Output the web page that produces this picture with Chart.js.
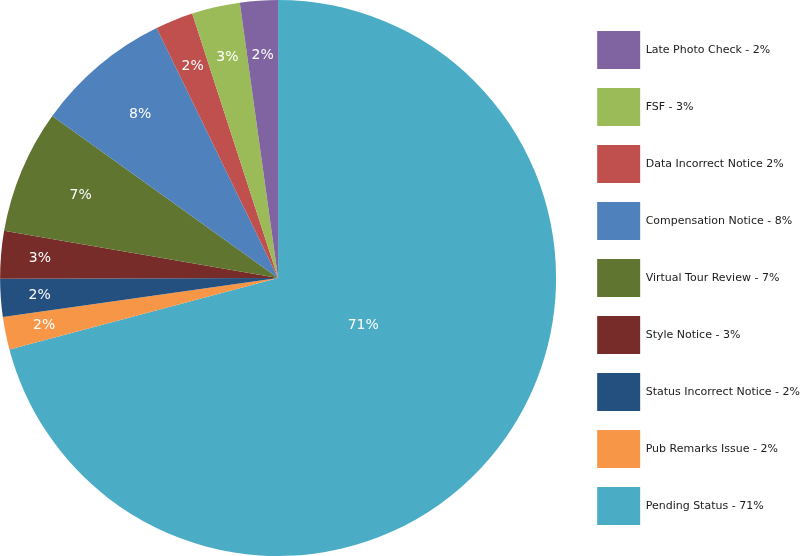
<!DOCTYPE html>
<html lang="en">
<head>
  <meta charset="UTF-8">
  <title>Status Breakdown</title>
  <script src="https://cdn.jsdelivr.net/npm/chart.js"></script>
  <style>
    body {
      margin: 0;
      background: #fff;
      overflow: hidden;
    }
    #wrap {
      position: relative;
      left: -22px;
      width: 832px;
      height: 556px;
    }
  </style>
</head>
<body>
  <div id="wrap"><canvas id="chartStatus"></canvas></div>

  <script>
    // data, clockwise from 12 o'clock
    const categories = [
      'Pending Status - 71%',
      'Pub Remarks Issue - 2%',
      'Status Incorrect Notice - 2%',
      'Style Notice - 3%',
      'Virtual Tour Review - 7%',
      'Compensation Notice - 8%',
      'Data Incorrect Notice 2%',
      'FSF - 3%',
      'Late Photo Check - 2%'
    ];
    const shares = [70.9, 1.9, 2.2, 2.75, 7.2, 7.9, 2.2, 2.8, 2.2];
    const colors = ['#4BACC6', '#F79646', '#23507F', '#772C2A', '#5F7530', '#4F81BD', '#C0504D', '#9BBB59', '#8064A2'];

    // white percentage labels on the slices
    const sliceLabels = {
      id: 'sliceLabels',
      afterDatasetsDraw(chart) {
        const ctx = chart.ctx;
        const meta = chart.getDatasetMeta(0);
        const total = shares.reduce((a, b) => a + b, 0);
        ctx.save();
        ctx.fillStyle = '#fff';
        ctx.font = '14px "DejaVu Sans", Verdana, sans-serif';
        ctx.textAlign = 'center';
        ctx.textBaseline = 'middle';
        meta.data.forEach((arc, i) => {
          const pct = shares[i] / total * 100;
          let mid = (arc.startAngle + arc.endAngle) / 2;
          let f;
          if (pct > 50) {
            f = 0.35;
            mid -= 0.15;
          } else if (pct >= 5) {
            f = 0.77;
          } else {
            f = 0.80 + 0.06 * Math.abs(Math.cos(mid));
          }
          const x = arc.x + Math.cos(mid) * arc.outerRadius * f;
          const y = arc.y + Math.sin(mid) * arc.outerRadius * f;
          ctx.fillText(Math.round(pct) + '%', x, y);
        });
        ctx.restore();
      }
    };

    new Chart(document.getElementById('chartStatus'), {
      type: 'pie',
      data: {
        labels: categories,
        datasets: [{
          data: shares,
          backgroundColor: colors,
          borderWidth: 0
        }]
      },
      options: {
        responsive: true,
        maintainAspectRatio: false,
        animation: false,
        plugins: {
          tooltip: { enabled: false },
          legend: {
            position: 'right',
            reverse: true,
            labels: {
              boxWidth: 43,
              boxHeight: 38,
              padding: 19,
              color: '#1a1a1a',
              font: { family: '"DejaVu Sans", Verdana, sans-serif', size: 11 }
            }
          }
        }
      },
      plugins: [sliceLabels]
    });
  </script>
</body>
</html>
